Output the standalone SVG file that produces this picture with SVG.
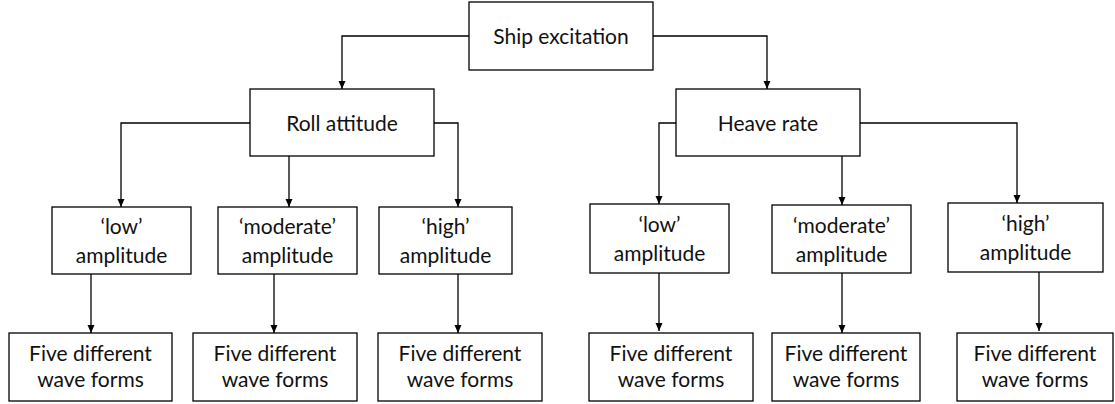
<svg xmlns="http://www.w3.org/2000/svg" width="1115" height="404" viewBox="0 0 1115 404">
  <defs>
    <marker id="arrow" viewBox="0 0 8 8" refX="8" refY="4" markerWidth="8" markerHeight="8" markerUnits="userSpaceOnUse" orient="auto">
      <path d="M0,0.5 L8,4 L0,7.5 Z" fill="#000"/>
    </marker>
    <style>
      .box { fill: #fff; stroke: #000; stroke-width: 1.3; }
      .label { font-family: Lato, "Liberation Sans", sans-serif; font-size: 21px; fill: #111; text-anchor: middle; }
      .link { fill: none; stroke: #000; stroke-width: 1.3; marker-end: url(#arrow); }
    </style>
  </defs>
  <rect width="1115" height="404" fill="#fff"/>

  <!-- connectors -->
  <g id="connectors">
    <path class="link" d="M469,36 H342 V89"/>
    <path class="link" d="M653,36 H767 V89"/>
    <path class="link" d="M250,123 H121 V207"/>
    <path class="link" d="M289,156 V207"/>
    <path class="link" d="M434,123 H458 V207"/>
    <path class="link" d="M676,123 H659 V204"/>
    <path class="link" d="M842,156 V205"/>
    <path class="link" d="M860,123 H1017 V203"/>
    <path class="link" d="M91,274 V333"/>
    <path class="link" d="M274,274 V333"/>
    <path class="link" d="M458,274 V333"/>
    <path class="link" d="M659,273 V331"/>
    <path class="link" d="M842,273 V333"/>
    <path class="link" d="M1039,272 V331"/>
  </g>

  <!-- top level -->
  <g id="ship-excitation">
    <rect class="box" x="469" y="2" width="184" height="68"/>
    <text class="label" x="561" y="44">Ship excitation</text>
  </g>

  <!-- second level -->
  <g id="roll-attitude">
    <rect class="box" x="250" y="89" width="184" height="67"/>
    <text class="label" x="342" y="131">Roll attitude</text>
  </g>
  <g id="heave-rate">
    <rect class="box" x="676" y="89" width="184" height="67"/>
    <text class="label" x="768" y="131">Heave rate</text>
  </g>

  <!-- amplitude classes -->
  <g id="roll-low">
    <rect class="box" x="52" y="207" width="139" height="67"/>
    <text class="label" x="121.5" y="234">‘low’</text>
    <text class="label" x="121.5" y="263">amplitude</text>
  </g>
  <g id="roll-moderate">
    <rect class="box" x="218" y="207" width="139" height="67"/>
    <text class="label" x="287.5" y="234">‘moderate’</text>
    <text class="label" x="287.5" y="263">amplitude</text>
  </g>
  <g id="roll-high">
    <rect class="box" x="379" y="207" width="133" height="67"/>
    <text class="label" x="445.5" y="234">‘high’</text>
    <text class="label" x="445.5" y="263">amplitude</text>
  </g>
  <g id="heave-low">
    <rect class="box" x="590" y="204" width="139" height="69"/>
    <text class="label" x="659.5" y="232">‘low’</text>
    <text class="label" x="659.5" y="261">amplitude</text>
  </g>
  <g id="heave-moderate">
    <rect class="box" x="772" y="205" width="139" height="68"/>
    <text class="label" x="841.5" y="233">‘moderate’</text>
    <text class="label" x="841.5" y="262">amplitude</text>
  </g>
  <g id="heave-high">
    <rect class="box" x="948" y="203" width="155" height="69"/>
    <text class="label" x="1025.5" y="231">‘high’</text>
    <text class="label" x="1025.5" y="260">amplitude</text>
  </g>

  <!-- wave form sets -->
  <g id="roll-low-waves">
    <rect class="box" x="9" y="333" width="163" height="68"/>
    <text class="label" x="90.5" y="361">Five different</text>
    <text class="label" x="90.5" y="387">wave forms</text>
  </g>
  <g id="roll-moderate-waves">
    <rect class="box" x="193" y="333" width="164" height="68"/>
    <text class="label" x="275" y="361">Five different</text>
    <text class="label" x="275" y="387">wave forms</text>
  </g>
  <g id="roll-high-waves">
    <rect class="box" x="378" y="333" width="164" height="68"/>
    <text class="label" x="460" y="361">Five different</text>
    <text class="label" x="460" y="387">wave forms</text>
  </g>
  <g id="heave-low-waves">
    <rect class="box" x="589" y="333" width="164" height="68"/>
    <text class="label" x="671" y="361">Five different</text>
    <text class="label" x="671" y="387">wave forms</text>
  </g>
  <g id="heave-moderate-waves">
    <rect class="box" x="772" y="333" width="148" height="68"/>
    <text class="label" x="846" y="361">Five different</text>
    <text class="label" x="846" y="387">wave forms</text>
  </g>
  <g id="heave-high-waves">
    <rect class="box" x="957" y="333" width="156" height="68"/>
    <text class="label" x="1035" y="361">Five different</text>
    <text class="label" x="1035" y="387">wave forms</text>
  </g>
</svg>
